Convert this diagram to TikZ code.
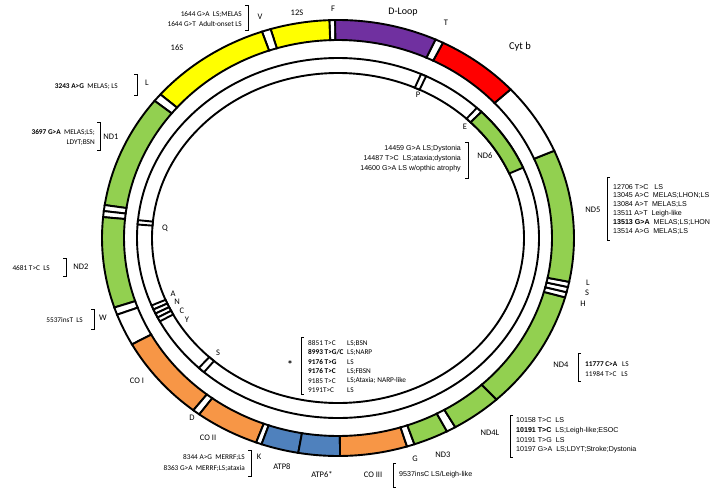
\documentclass[tikz,border=0pt]{standalone}
\usepackage{fontspec}
\setmainfont{Carlito}
\newfontfamily\arialf{Liberation Sans}
\definecolor{mtyellow}{HTML}{FFFF00}
\definecolor{mtgreen}{HTML}{92D050}
\definecolor{mtpurple}{HTML}{7030A0}
\definecolor{mtred}{HTML}{FF0000}
\definecolor{mtorange}{HTML}{F79646}
\definecolor{mtblue}{HTML}{4F81BD}
\tikzset{
  ringseg/.style={draw=black, line width=1.9pt, line join=miter},
  ringline/.style={draw=black, line width=1.9pt},
  gene/.style={font=\fontsize{8.5}{10}\selectfont, inner sep=0pt},
  mutc/.style={font=\fontsize{7.3}{10}\selectfont, inner sep=0pt},
  muta/.style={font=\arialf\fontsize{7.1}{8.8}\selectfont, inner sep=0pt},
  brk/.style={draw=black, line width=0.8pt},
}
\newcommand\mtouter[3]{\filldraw[ringseg, fill=#3] ({236*cos(#1)},{218*sin(#1)}) arc[start angle=#1, end angle=#2, x radius=236pt, y radius=218pt] -- ({214*cos(#2)},{198*sin(#2)}) arc[start angle=#2, end angle=#1, x radius=214pt, y radius=198pt] -- cycle;}
\newcommand\mtinner[3]{\filldraw[ringseg, fill=#3] ({201*cos(#1)},{180*sin(#1)}) arc[start angle=#1, end angle=#2, x radius=201pt, y radius=180pt] -- ({186*cos(#2)},{165*sin(#2)}) arc[start angle=#2, end angle=#1, x radius=186pt, y radius=165pt] -- cycle;}
\newcommand\rbrk[3]{\draw[brk] (#1-3,-#2) -- (#1,-#2) -- (#1,-#3) -- (#1-3,-#3);}
\newcommand\lbrk[3]{\draw[brk] (#1+3,-#2) -- (#1,-#2) -- (#1,-#3) -- (#1+3,-#3);}
\begin{document}
\begin{tikzpicture}[x=1pt,y=1pt]
\useasboundingbox (0,0) rectangle (720,-490);
\fill[white] (0,0) rectangle (720,-490);
\begin{scope}[shift={(338,-238)}]
% outer ring (heavy strand)
\mtouter{90.7}{92.1}{white}
\mtouter{92.1}{106.6}{mtyellow}
\mtouter{106.6}{108.8}{white}
\mtouter{108.8}{138.8}{mtyellow}
\mtouter{138.8}{141.0}{white}
\mtouter{141.0}{171.3}{mtgreen}
\mtouter{171.3}{172.9}{white}
\mtouter{172.9}{174.5}{white}
\mtouter{174.5}{198.6}{mtgreen}
\mtouter{198.6}{200.6}{white}
\mtouter{200.6}{209.2}{white}
\mtouter{209.2}{232.2}{mtorange}
\mtouter{232.2}{234.0}{white}
\mtouter{234.0}{249.7}{mtorange}
\mtouter{249.7}{251.1}{white}
\mtouter{251.1}{260.3}{mtblue}
\mtouter{260.3}{270.5}{mtblue}
\mtouter{270.5}{287.0}{mtorange}
\mtouter{287.0}{288.9}{white}
\mtouter{288.9}{297.5}{mtgreen}
\mtouter{297.5}{299.8}{white}
\mtouter{299.8}{312.2}{mtgreen}
\mtouter{312.2}{344.2}{mtgreen}
\mtouter{344.2}{345.6}{white}
\mtouter{345.6}{347.0}{white}
\mtouter{347.0}{348.4}{white}
\mtouter{348.4}{383.6}{mtgreen}
\mtouter{383.6}{403.0}{white}
\mtouter{403.0}{423.6}{mtred}
\mtouter{423.6}{425.6}{white}
\mtouter{425.6}{450.7}{mtpurple}
% inner ring (light strand)
\draw[ringline] (0,0) ellipse [x radius=201pt, y radius=180pt];
\draw[ringline] (0,0) ellipse [x radius=186pt, y radius=165pt];
\mtinner{64.0}{65.6}{white}
\mtinner{44.5}{46.3}{white}
\mtinner{23.0}{44.5}{mtgreen}
\mtinner{174.3}{175.7}{white}
\mtinner{202.0}{203.4}{white}
\mtinner{203.4}{204.8}{white}
\mtinner{204.8}{206.2}{white}
\mtinner{206.2}{207.6}{white}
\mtinner{226.2}{228.2}{white}
\end{scope}
% top labels
\node[mutc, anchor=east, align=right] (m1644) at (242,-19) {1644 G>A\ \ LS;MELAS\\1644 G>T\ \ Adult-onset LS};
\rbrk{248}{5}{30}
\node[gene] (gV) at (260,-17) {V};
\node[gene] (g12S) at (297,-13) {12S};
\node[gene] (gF) at (333,-9) {F};
\node[gene, font=\fontsize{10}{12}\selectfont] (gDL) at (403,-12) {D-Loop};
\node[gene] (gT) at (446,-23) {T};
\node[gene, font=\fontsize{10.5}{12}\selectfont] (gCytb) at (520,-47) {Cyt b};
\node[gene] (g16S) at (177,-48) {16S};
% left labels
\node[mutc, anchor=east] (m3243) at (118,-87) {\textbf{3243 A>G}\ \ MELAS; LS};
\rbrk{137}{74}{95}
\node[gene] (gL1) at (147,-83) {L};
\node[mutc, anchor=east, align=right] (m3697) at (95,-137) {\textbf{3697 G>A}\ \ MELAS;LS;\\LDYT;BSN};
\rbrk{100}{122}{150}
\node[gene] (gND1) at (111,-137) {ND1};
\node[gene] (gQ) at (165,-228) {Q};
\node[mutc, anchor=east] (m4681) at (50,-268) {4681 T>C\ \ LS};
\rbrk{66}{258}{276}
\node[gene] (gND2) at (81,-267) {ND2};
\node[mutc, anchor=east] (m5537) at (83,-320) {5537insT\ \ LS};
\rbrk{94}{309}{329}
\node[gene] (gW) at (103,-318) {W};
\node[gene] (gA) at (173,-294) {A};
\node[gene] (gN) at (177,-302) {N};
\node[gene] (gC) at (182,-311) {C};
\node[gene] (gY) at (187,-320) {Y};
\node[gene] (gS1) at (218,-353) {S};
\node[gene] (gCOI) at (137,-381) {CO I};
\node[gene] (gD) at (192,-418) {D};
\node[gene] (gCOII) at (208,-438) {CO II};
\node[mutc, anchor=east, align=right, font=\fontsize{7.3}{11}\selectfont] (m8344) at (245,-462.5) {8344 A>G\ \ MERRF;LS\\8363 G>A\ \ MERRF;LS;ataxia};
\rbrk{251}{450}{476}
\node[gene] (gK) at (259,-457) {K};
\node[gene] (gATP8) at (282,-467) {ATP8};
\node[gene] (gATP6) at (322,-475) {ATP6*};
\node[gene] (gCOIII) at (373,-475) {CO III};
\lbrk{393}{463}{487}
\node[muta, anchor=west] (m9537) at (399,-475) {9537insC LS/Leigh-like};
\node[gene] (gG) at (415,-459) {G};
\node[gene] (gND3) at (443,-455) {ND3};
% ATP6 list
\node[gene, font=\bfseries\fontsize{11}{12}\selectfont] (gstar) at (290,-365) {*};
\lbrk{301}{337}{394}
\node[mutc, anchor=west, align=left, font=\fontsize{7.3}{9.4}\selectfont] (matpa) at (308,-366.5) {8851 T>C\\\textbf{8993 T>G/C}\\\textbf{9176 T>G}\\\textbf{9176 T>C}\\9185 T>C\\9191T>C};
\node[mutc, anchor=west, align=left, font=\fontsize{7.3}{9.4}\selectfont] (matpb) at (347,-366.5) {LS;BSN\\LS;NARP\\LS\\LS;FBSN\\LS;Ataxia; NARP-like\\LS};
% right labels
\node[gene] (gND4L) at (490,-433) {ND4L};
\lbrk{510}{415}{457}
\node[muta, anchor=west, align=left, font=\arialf\fontsize{7.1}{9.7}\selectfont] (m10158) at (516,-435.5) {10158 T>C\ \ LS\\\textbf{10191 T>C}\ \ LS;Leigh-like;ESOC\\10191 T>G\ \ LS\\10197 G>A\ \ LS;LDYT;Stroke;Dystonia};
\node[gene] (gND4) at (561,-365) {ND4};
\lbrk{578}{353}{381}
\node[mutc, anchor=west, align=left] (m11777) at (585,-369) {\textbf{11777 C>A}\ \ \ LS\\11984 T>C\ \ \ LS};
\node[gene] (gL2) at (588,-283) {L};
\node[gene] (gS2) at (587,-293) {S};
\node[gene] (gH) at (583,-304) {H};
\node[gene] (gND5) at (593,-210) {ND5};
\lbrk{607}{177}{240}
\node[muta, anchor=west, align=left] (m12706) at (613,-209) {12706 T>C\ \ \ LS\\13045 A>C\ \ MELAS;LHON;LS\\13084 A>T\ \ MELAS;LS\\13511 A>T\ \ Leigh-like\\\textbf{13513 G>A}\ \ MELAS;LS;LHON\\13514 A>G\ \ MELAS;LS};
\node[gene] (gND6) at (485,-156) {ND6};
\rbrk{468}{142}{178}
\node[muta, anchor=east, align=right, font=\arialf\fontsize{7.1}{10}\selectfont] (m14459) at (461,-159) {14459 G>A LS;Dystonia\\14487 T>C\ \ LS;ataxia;dystonia\\14600 G>A LS w/opthic atrophy};
\node[gene] (gE) at (465,-127) {E};
\node[gene] (gP) at (418,-95) {P};
\end{tikzpicture}
\end{document}
